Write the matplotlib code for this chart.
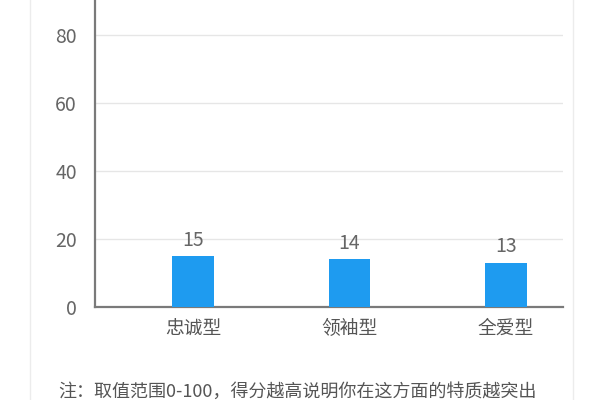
import matplotlib
matplotlib.use("Agg")
import matplotlib.pyplot as plt
from matplotlib.lines import Line2D

plt.rcParams['font.family'] = ['Noto Sans CJK SC', 'DejaVu Sans']

categories = ['忠诚型', '领袖型', '全爱型']
scores = [15, 14, 13]
y_ticks = [0, 20, 40, 60, 80]
note = '注：取值范围0-100，得分越高说明你在这方面的特质越突出'

bar_color = '#1E9BF0'
axis_color = '#7a7a7a'
grid_color = '#e6e6e6'
text_color = '#666666'

fig = plt.figure(figsize=(6, 4), dpi=100)
ax = fig.add_axes([95 / 600, 1 - 307 / 400, 468 / 600, 307 / 400])

x = range(len(categories))
bars = ax.bar(x, scores, width=0.268, color=bar_color, zorder=3)

for rect, v in zip(bars, scores):
    ax.text(rect.get_x() + rect.get_width() / 2, v + 1.6, str(v),
            ha='center', va='bottom', fontsize=14, color=text_color)

ax.set_xlim(-0.626, 2.364)
ax.set_ylim(0, 90.3)
ax.set_yticks(y_ticks)
ax.set_yticklabels([str(t) for t in y_ticks], fontsize=14, color=text_color)
ax.set_xticks(list(x))
ax.set_xticklabels(categories, fontsize=13.5, color='#555555')
ax.tick_params(axis='y', length=0, pad=13)
ax.tick_params(axis='x', length=0, pad=8)

for t in y_ticks[1:]:
    ax.axhline(t, color=grid_color, lw=1, zorder=1)

for side in ['top', 'right']:
    ax.spines[side].set_visible(False)
ax.spines['left'].set_color(axis_color)
ax.spines['bottom'].set_color(axis_color)
ax.spines['left'].set_linewidth(1.6)
ax.spines['bottom'].set_linewidth(1.6)

# card borders
fig.add_artist(Line2D([30 / 600, 30 / 600], [0, 1], color='#ececec', lw=1))
fig.add_artist(Line2D([573 / 600, 573 / 600], [0, 1], color='#ececec', lw=1))

fig.text(58 / 600, 1 - 392 / 400, note, ha='left', va='center',
         fontsize=13, color='#555555')

fig.savefig('out.png', dpi=100)
